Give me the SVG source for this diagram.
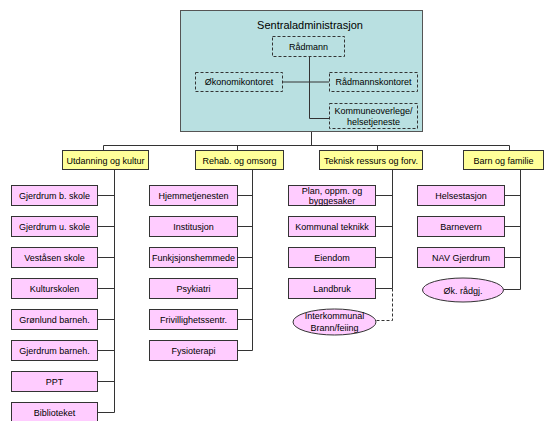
<svg xmlns="http://www.w3.org/2000/svg" width="545" height="421" viewBox="0 0 545 421">
<style>
text{font-family:"Liberation Sans",Arial,sans-serif;font-size:9px;fill:#000;text-anchor:middle}
.t{font-size:11px}
.main{fill:#b9e0e1;stroke:#555;stroke-width:1}
.dash{fill:none;stroke:#333;stroke-width:1;stroke-dasharray:3,2}
.hdr{fill:#ffff99;stroke:#333;stroke-width:1}
.unit{fill:#ffccff;stroke:#333;stroke-width:1}
.c{fill:none;stroke:#333;stroke-width:1}
.cd{fill:none;stroke:#333;stroke-width:1;stroke-dasharray:3,2}
</style>
<rect width="545" height="421" fill="#fff"/>
<g id="sentraladministrasjon">
<rect class="main" x="180.5" y="10.5" width="242" height="121"/>
<text class="t" x="310" y="29">Sentraladministrasjon</text>
</g>
<g id="connectors">
<path class="c" d="M309.5,57V118.5H329M283,82H329"/>
<path class="c" d="M311.5,132V145.5M103.5,150.5V145.5H509.5V150.5M237.5,145.5V150.5M377.5,145.5V150.5"/>
<path class="c" d="M114.5,169V412.5M98,195.5H114.5M98,226.5H114.5M98,257.5H114.5M98,288.5H114.5M98,319.5H114.5M98,350.5H114.5M98,381.5H114.5M98,412.5H114.5"/>
<path class="c" d="M252.5,169V350.5M238,195.5H252.5M238,226.5H252.5M238,257.5H252.5M238,288.5H252.5M238,319.5H252.5M238,350.5H252.5"/>
<path class="c" d="M392.5,169V288.5M376,195.5H392.5M376,226.5H392.5M376,257.5H392.5M376,288.5H392.5"/>
<path class="cd" d="M392.5,288.5V320.5H376"/>
<path class="c" d="M520.5,169V289.5M505,195.5H520.5M505,226.5H520.5M505,257.5H520.5M504,289.5H520.5"/>
</g>
<g id="radmann"><rect class="dash" x="272.5" y="36.5" width="72" height="20"/><text x="308.5" y="50">Rådmann</text></g>
<g id="okonomikontoret"><rect class="dash" x="195.5" y="72.5" width="87" height="19"/><text x="239" y="85">Økonomikontoret</text></g>
<g id="radmannskontoret"><rect class="dash" x="329.5" y="72.5" width="88" height="19"/><text x="373.5" y="85">Rådmannskontoret</text></g>
<g id="kommuneoverlege"><rect class="dash" x="329.5" y="103.5" width="88" height="25"/><text x="373.5" y="114">Kommuneoverlege/</text><text x="373.5" y="125">helsetjeneste</text></g>

<g id="utdanning"><rect class="hdr" x="62.5" y="150.5" width="86" height="19"/><text x="105.5" y="163.5">Utdanning og kultur</text></g>
<g id="rehab"><rect class="hdr" x="195.5" y="150.5" width="88" height="19"/><text x="239.5" y="163.5">Rehab. og omsorg</text></g>
<g id="teknisk"><rect class="hdr" x="319.5" y="150.5" width="103" height="19"/><text x="371" y="163.5">Teknisk ressurs og forv.</text></g>
<g id="barn"><rect class="hdr" x="463.5" y="150.5" width="80" height="19"/><text x="503.5" y="163.5">Barn og familie</text></g>

<g id="gjerdrum-b-skole"><rect class="unit" x="11.5" y="185.5" width="86" height="20"/><text x="54.5" y="199">Gjerdrum b. skole</text></g>
<g id="gjerdrum-u-skole"><rect class="unit" x="11.5" y="216.5" width="86" height="20"/><text x="54.5" y="230">Gjerdrum u. skole</text></g>
<g id="vestasen-skole"><rect class="unit" x="11.5" y="247.5" width="86" height="20"/><text x="54.5" y="261">Veståsen skole</text></g>
<g id="kulturskolen"><rect class="unit" x="11.5" y="278.5" width="86" height="20"/><text x="54.5" y="292">Kulturskolen</text></g>
<g id="gronlund-barneh"><rect class="unit" x="11.5" y="309.5" width="86" height="20"/><text x="54.5" y="323">Grønlund barneh.</text></g>
<g id="gjerdrum-barneh"><rect class="unit" x="11.5" y="340.5" width="86" height="20"/><text x="54.5" y="354">Gjerdrum barneh.</text></g>
<g id="ppt"><rect class="unit" x="11.5" y="371.5" width="86" height="20"/><text x="54.5" y="385">PPT</text></g>
<g id="biblioteket"><rect class="unit" x="11.5" y="402.5" width="86" height="20"/><text x="54.5" y="416">Biblioteket</text></g>

<g id="hjemmetjenesten"><rect class="unit" x="149.5" y="185.5" width="88" height="20"/><text x="193.5" y="199">Hjemmetjenesten</text></g>
<g id="institusjon"><rect class="unit" x="149.5" y="216.5" width="88" height="20"/><text x="193.5" y="230">Institusjon</text></g>
<g id="funkjsjonshemmede"><rect class="unit" x="149.5" y="247.5" width="88" height="20"/><text x="193.5" y="261">Funkjsjonshemmede</text></g>
<g id="psykiatri"><rect class="unit" x="149.5" y="278.5" width="88" height="20"/><text x="193.5" y="292">Psykiatri</text></g>
<g id="frivillighetssentr"><rect class="unit" x="149.5" y="309.5" width="88" height="20"/><text x="193.5" y="323">Frivillighetssentr.</text></g>
<g id="fysioterapi"><rect class="unit" x="149.5" y="340.5" width="88" height="20"/><text x="193.5" y="354">Fysioterapi</text></g>

<g id="plan"><rect class="unit" x="288.5" y="185.5" width="87" height="20"/><text x="332" y="194">Plan, oppm. og</text><text x="332" y="204">byggesaker</text></g>
<g id="kommunal-teknikk"><rect class="unit" x="288.5" y="216.5" width="87" height="20"/><text x="332" y="230">Kommunal teknikk</text></g>
<g id="eiendom"><rect class="unit" x="288.5" y="247.5" width="87" height="20"/><text x="332" y="261">Eiendom</text></g>
<g id="landbruk"><rect class="unit" x="288.5" y="278.5" width="87" height="20"/><text x="332" y="292">Landbruk</text></g>
<g id="interkommunal"><ellipse class="unit" cx="334.5" cy="322" rx="41.5" ry="13"/><text x="334.5" y="318.5">Interkommunal</text><text x="334.5" y="331">Brann/feiing</text></g>

<g id="helsestasjon"><rect class="unit" x="417.5" y="185.5" width="87" height="20"/><text x="461" y="199">Helsestasjon</text></g>
<g id="barnevern"><rect class="unit" x="417.5" y="216.5" width="87" height="20"/><text x="461" y="230">Barnevern</text></g>
<g id="nav-gjerdrum"><rect class="unit" x="417.5" y="247.5" width="87" height="20"/><text x="461" y="261">NAV Gjerdrum</text></g>
<g id="ok-radgj"><ellipse class="unit" cx="463" cy="290" rx="40.5" ry="12"/><text x="463" y="293.5">Øk. rådgj.</text></g>
</svg>
